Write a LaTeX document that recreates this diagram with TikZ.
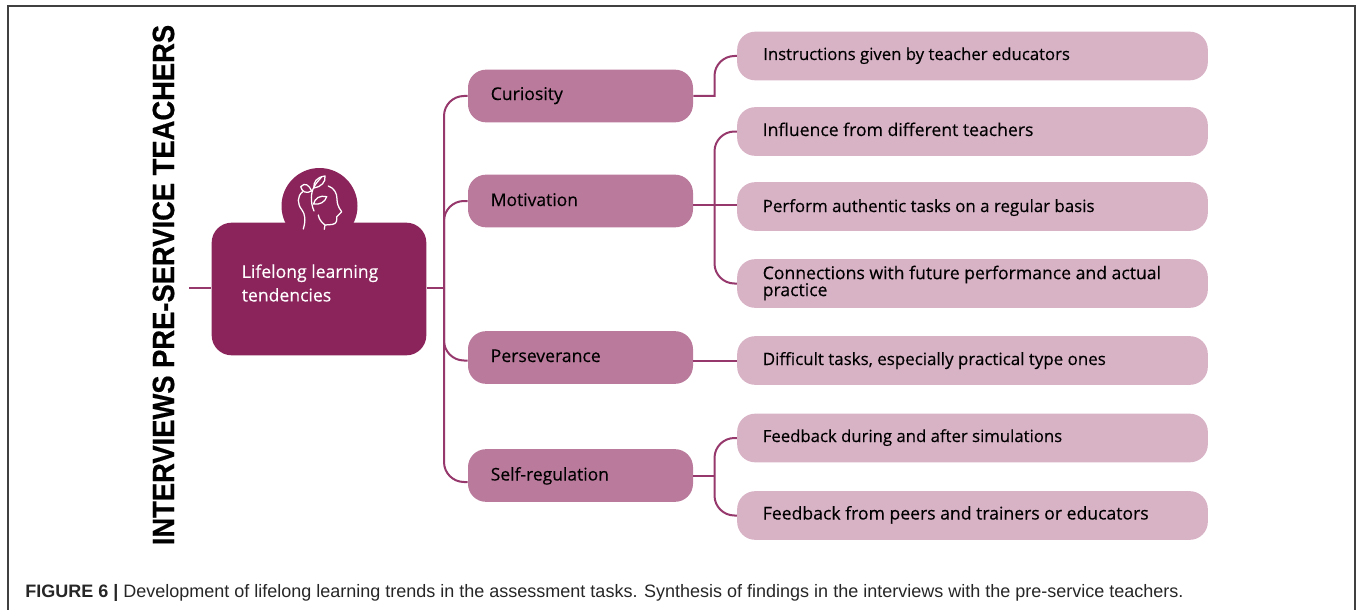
\documentclass[tikz,border=0pt]{standalone}
\usepackage{fontspec}
\setmainfont{Liberation Sans}
\newfontfamily\robo[FakeBold=0.3]{Open Sans}
\newfontfamily\sidefont[FakeBold=0.6]{Liberation Sans}
\definecolor{dark}{HTML}{8C245C}
\definecolor{midc}{HTML}{BA7A9B}
\definecolor{lightc}{HTML}{D8B2C5}
\definecolor{linec}{HTML}{96386C}
\newcommand{\fs}[1]{\robo\fontsize{#1}{#1}\selectfont}
\tikzset{
  x=0.75pt,y=-0.75pt,
  conn/.style={draw=linec,line width=1.5pt,rounded corners=15pt},
  midbox/.style={fill=midc,rounded corners=13.5pt,minimum width=168.75pt,minimum height=39.5pt,inner sep=0pt,text=black},
  leafbox/.style={fill=lightc,rounded corners=13.5pt,minimum width=353pt,minimum height=36.5pt,inner sep=0pt},
  lab/.style={anchor=base west,text=black,inner sep=0pt},
  lab2/.style={anchor=west,text=black,inner sep=0pt,align=left},
}
\begin{document}
\begin{tikzpicture}
\useasboundingbox (0,0) rectangle (1357,610);
\draw[black!75,line width=0.8pt] (8,610) -- (8,6) -- (1355,6) -- (1355,610);
% connectors
\coordinate (start) at (189,288);
\coordinate (trunk) at (444,288);
\coordinate (branchA) at (714.5,96);
\coordinate (motrow) at (714.5,204.5);
\node[midbox] (cur) at (580.5,96) {};
\node[midbox] (mot) at (580.5,201) {};
\node[midbox] (per) at (580.5,357.5) {};
\node[midbox] (sel) at (580.5,475.5) {};
\node[leafbox] (a1) at (972.5,56) {};
\node[leafbox] (b1) at (972.5,131.5) {};
\node[leafbox] (b2) at (972.5,206.5) {};
\node[leafbox] (b3) at (972.5,283.5) {};
\node[leafbox] (c1) at (972.5,360.5) {};
\node[leafbox] (d1) at (972.5,438) {};
\node[leafbox] (d2) at (972.5,515.5) {};
% central
\fill[dark] (319.5,206) circle[radius=38];
\node[fill=dark,rounded corners=15pt,minimum width=161pt,minimum height=99.5pt,inner sep=0pt] (main) at (319,289) {};
\node[lab2,text=white,font=\fs{13.2}] (mainlab) at (241.5,283) {Lifelong learning\\[4.5pt]tendencies};
\draw[conn] (start) -- (main.west |- start);
\draw[conn] (main.east |- trunk) -- (trunk);
\draw[conn] (cur.west) -- (444,96) -- (trunk);
\draw[conn] (mot.west) -- (444,201) -- (trunk);
\draw[conn] (per.west |- c1.west) -- (444,360.5) -- (trunk);
\draw[conn] (sel.west |- 0,482) -- (444,482) -- (trunk);
\draw[conn,sharp corners] (cur.east) -- (branchA) -- (714.5,75) [rounded corners=15pt] -- (714.5,56) -- (a1.west);
\draw[conn] (mot.east |- motrow) -- (b2.west |- motrow);
\draw[conn] (b1.west) -- (714.5,131.5) -- (714.5,283.5) -- (b3.west);
\draw[conn] (per.east |- c1.west) -- (c1.west);
\draw[conn] (sel.east) -- (714.5,475.5);
\draw[conn] (d1.west) -- (714.5,438) -- (714.5,515.5) -- (d2.west);
% labels
\node[lab,font=\fs{13.2}] (l1) at (490.5,100) {Curiosity};
\node[lab,font=\fs{13.1}] (l2) at (490.5,206) {Motivation};
\node[lab,font=\fs{13.2}] (l3) at (490.5,362) {Perseverance};
\node[lab,font=\fs{13.1}] (l4) at (490.5,480.5) {Self-regulation};
\node[lab,font=\fs{12.55}] (t1) at (763,60) {Instructions given by teacher educators};
\node[lab,font=\fs{13.2}] (t2) at (762.5,136) {Influence from different teachers};
\node[lab,font=\fs{12.65}] (t3) at (762.5,212) {Perform authentic tasks on a regular basis};
\node[lab2,font=\fs{13.2}] (t4) at (762.5,283) {Connections with future performance and actual\\[-0.5pt]practice};
\node[lab,font=\fs{12.7}] (t5) at (762.5,365) {Difficult tasks, especially practical type ones};
\node[lab,font=\fs{12.55}] (t6) at (762.5,442) {Feedback during and after simulations};
\node[lab,font=\fs{13.2}] (t7) at (762.5,519.5) {Feedback from peers and trainers or educators};
% side title
\node[rotate=90,inner sep=0pt,font=\sidefont\bfseries\fontsize{23}{23}\selectfont,text=black,xscale=0.892,transform shape] (side) at (163.5,285) {INTERVIEWS PRE-SERVICE TEACHERS};
% caption
\node[anchor=west,inner sep=0pt,font=\fontsize{13.5}{13.5}\selectfont,text=black!85] (cap) at (25,592.5) {\textbf{FIGURE 6 |} Development of lifelong learning trends in the assessment tasks. Synthesis of findings in the interviews with the pre-service teachers.};
% icon
\begin{scope}[draw=white,line width=0.95pt,line cap=round,line join=round]
\draw (303.3,229) .. controls (306,220) and (305,214) .. (302,210) .. controls (297,204) and (297,196) .. (302.7,191.7);
\draw (328.3,186) .. controls (334,188) and (337,193) .. (337,199) .. controls (337,203) and (338,207) .. (341.7,211.7) -- (336.7,216.7) .. controls (337,220) and (337,224) .. (332,224.5) -- (325,225) -- (324.3,229.3);
\draw (318.3,215) .. controls (319,219) and (321,222) .. (325,225);
\draw (314,211) .. controls (310,202) and (311,192) .. (314,187) .. controls (316,183) and (319,180) .. (321.7,177);
\draw (314,188) .. controls (313,182) and (317,177) .. (325,176) .. controls (326,182) and (321,187) .. (314,188);
\draw (311.7,191) .. controls (309,185) and (305,182) .. (300.7,186.7) .. controls (302,192) and (306,194) .. (311.7,191);
\draw (313.5,204) .. controls (315,198) and (320,195) .. (326.7,196.7) .. controls (325,202) and (320,205) .. (313.5,204);
\end{scope}
\end{tikzpicture}
\end{document}
